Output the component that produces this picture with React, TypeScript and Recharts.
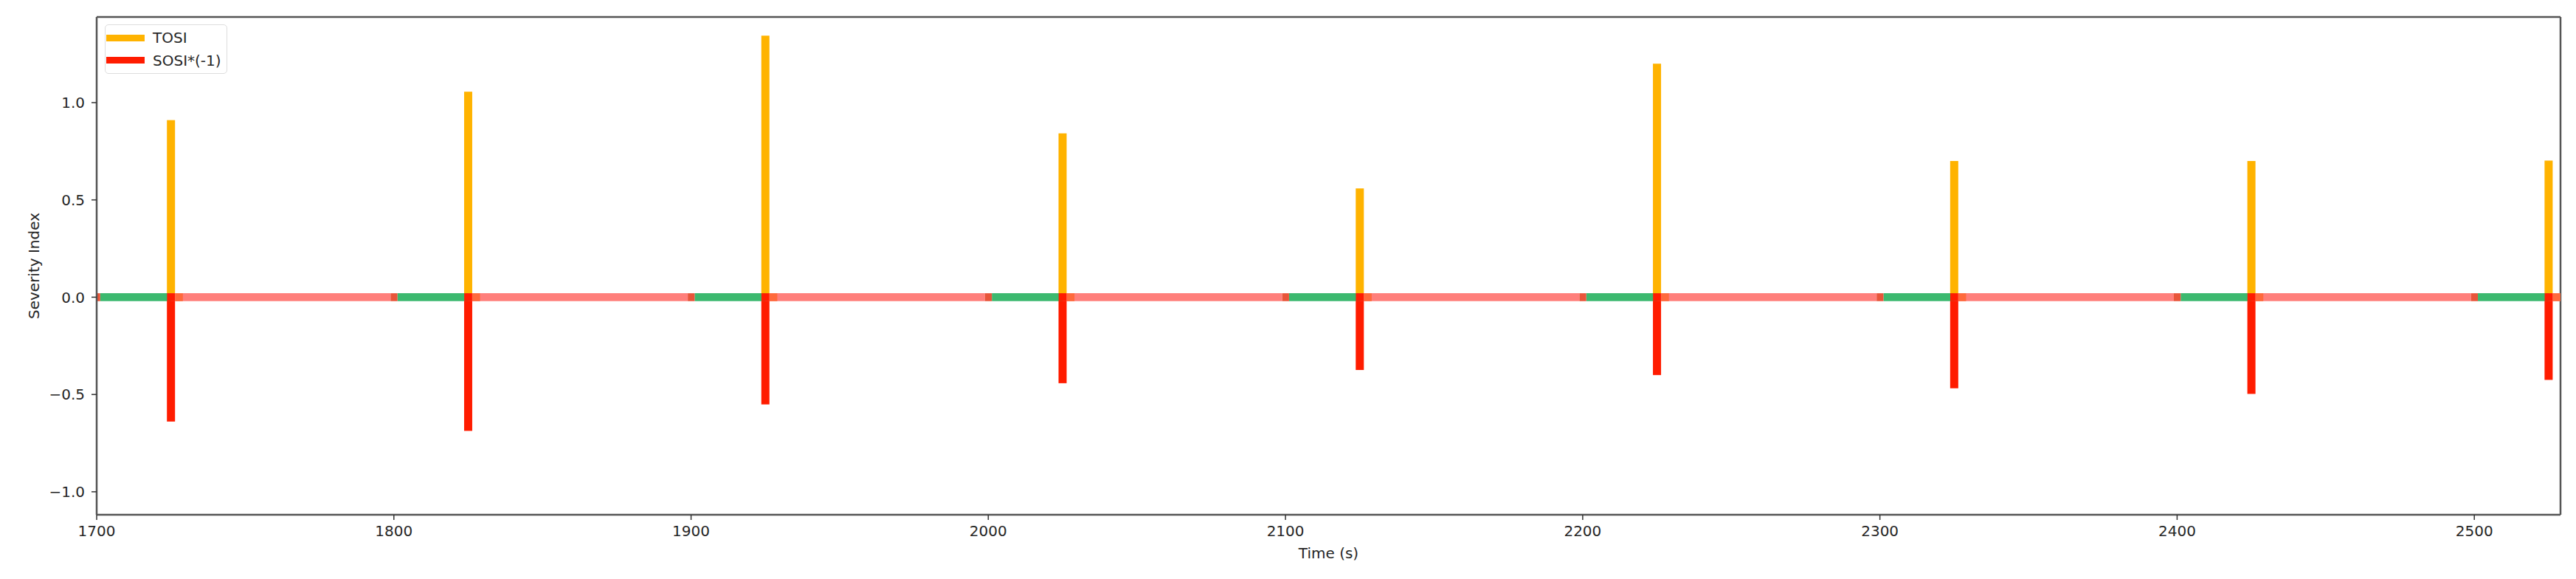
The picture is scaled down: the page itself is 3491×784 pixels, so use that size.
import React from 'react';
import { ComposedChart, Bar, Line, XAxis, YAxis, Legend, ReferenceLine } from 'recharts';

// Spike times (s) and severity values
const SPIKE_TIMES = [1725, 1825, 1925, 2025, 2125, 2225, 2325, 2425, 2525];
const TOSI = [0.91, 1.056, 1.344, 0.842, 0.559, 1.2, 0.7, 0.7, 0.702];
const SOSI_NEG = [-0.639, -0.687, -0.551, -0.442, -0.374, -0.4, -0.468, -0.497, -0.425];

// State band along y = 0: [start, end] in seconds
const GREEN_SEGMENTS: [number, number][] = [
  [1701.2, 1725], [1801.2, 1825], [1901.2, 1925], [2001.2, 2025], [2101.2, 2125],
  [2201.2, 2225], [2301.2, 2325], [2401.2, 2425], [2501.2, 2525],
];
const RED_SEGMENTS: [number, number][] = [
  [1725, 1798.9], [1825, 1898.9], [1925, 1998.9], [2025, 2098.9], [2125, 2198.9],
  [2225, 2298.9], [2325, 2398.9], [2425, 2498.9], [2525, 2529],
];
const ORANGE_PATCHES: [number, number][] = [
  [1726.4, 1729], [1826.4, 1829], [1926.4, 1929], [2026.4, 2029], [2126.4, 2129],
  [2226.4, 2229], [2326.4, 2329], [2426.4, 2429], [2526.4, 2529],
];
const DARK_PATCHES: [number, number][] = [
  [1700, 1701.2], [1798.9, 1801.2], [1898.9, 1901.2], [1998.9, 2001.2], [2098.9, 2101.2],
  [2198.9, 2201.2], [2298.9, 2301.2], [2398.9, 2401.2], [2498.9, 2501.2],
];
const PEAK_MARKS: [number, number][] = SPIKE_TIMES.map(t => [t - 1.33, t + 1.33]);

const X_DOMAIN = [1700, 2529];
const Y_DOMAIN = [-1.118, 1.44];
const X_TICKS = [1700, 1800, 1900, 2000, 2100, 2200, 2300, 2400, 2500];
const Y_TICKS = [-1, -0.5, 0, 0.5, 1];
const LEGEND_ORDER = ['TOSI', 'SOSI*(-1)'];

const COLORS = {
  tosi: '#ffb300',
  sosi: '#ff1c00',
  green: '#3cb96f',
  red: '#ff7f7b',
  orange: '#ff6a3c',
  dark: '#e8553a',
  axis: '#555555',
  text: '#262626',
};

const SPIKE_W = 11;

const data = SPIKE_TIMES.map((t, i) => ({ t, tosi: TOSI[i], sosi: SOSI_NEG[i] }));

const fmtY = (v: number) => (v < 0 ? `\u2212${Math.abs(v).toFixed(1)}` : v.toFixed(1));

const renderBand = (segs: [number, number][], color: string, key: string) =>
  segs.map(([a, b], i) => (
    <Line
      key={`${key}-${i}`}
      data={[{ t: a, v: 0 }, { t: b, v: 0 }]}
      dataKey="v"
      stroke={color}
      strokeWidth={10.7}
      dot={false}
      activeDot={false}
      legendType="none"
      isAnimationActive={false}
    />
  ));

// fixed-width spike centred on its time value
const Spike = (p: any) => {
  const h = Math.abs(p.height || 0);
  const y = p.height < 0 ? p.y + p.height : p.y;
  return <rect x={p.x + p.width / 2 - SPIKE_W / 2} y={y} width={SPIKE_W} height={h} fill={p.fill} />;
};

const LegendBox = (props: any) => {
  const items = (props.payload || [])
    .filter((p: any) => p.type !== 'none')
    .sort((a: any, b: any) => LEGEND_ORDER.indexOf(a.value) - LEGEND_ORDER.indexOf(b.value));
  return (
    <div
      style={{
        width: 166,
        height: 67,
        boxSizing: 'border-box',
        border: '1.5px solid #dddddd',
        borderRadius: 5,
        background: 'rgba(255,255,255,0.85)',
        paddingTop: 2,
        paddingLeft: 1,
        fontSize: 20,
        color: COLORS.text,
      }}
    >
      {items.map((it: any) => (
        <div key={it.value} style={{ display: 'flex', alignItems: 'center', height: 30.5 }}>
          <span style={{ display: 'inline-block', width: 52, height: 9, background: it.color }} />
          <span style={{ marginLeft: 11, lineHeight: '20px' }}>{it.value}</span>
        </div>
      ))}
    </div>
  );
};

export default function App() {
  return (
    <div style={{ position: 'absolute', left: 0, top: 0, fontFamily: 'DejaVu Sans', background: '#fff' }}>
      <ComposedChart
        width={3491}
        height={784}
        data={data}
        stackOffset="sign"
        margin={{ top: 23, right: 21, bottom: 0, left: 0 }}
      >
        <XAxis
          type="number"
          dataKey="t"
          domain={X_DOMAIN}
          ticks={X_TICKS}
          allowDataOverflow
          height={87}
          tickSize={7}
          tickMargin={8}
          tick={{ fontSize: 20, fill: COLORS.text }}
          axisLine={{ stroke: COLORS.axis, strokeWidth: 2.5 }}
          tickLine={{ stroke: '#333', strokeWidth: 1.5 }}
          label={{ value: 'Time (s)', position: 'insideBottom', offset: 28, fontSize: 20, fill: COLORS.text }}
        />
        <YAxis
          type="number"
          domain={Y_DOMAIN}
          ticks={Y_TICKS}
          allowDataOverflow
          width={131}
          tickSize={7}
          tickMargin={9}
          tickFormatter={fmtY}
          tick={{ fontSize: 20, fill: COLORS.text }}
          axisLine={{ stroke: COLORS.axis, strokeWidth: 2.5 }}
          tickLine={{ stroke: '#333', strokeWidth: 1.5 }}
          label={{
            value: 'Severity Index',
            angle: -90,
            position: 'insideLeft',
            offset: 46,
            fontSize: 20,
            fill: COLORS.text,
            style: { textAnchor: 'middle' },
          }}
        />
        <ReferenceLine y={Y_DOMAIN[1]} stroke={COLORS.axis} strokeWidth={2.5} />
        <ReferenceLine x={X_DOMAIN[1]} stroke={COLORS.axis} strokeWidth={2.5} />
        {renderBand(GREEN_SEGMENTS, COLORS.green, 'g')}
        {renderBand(RED_SEGMENTS, COLORS.red, 'r')}
        {renderBand(ORANGE_PATCHES, COLORS.orange, 'o')}
        {renderBand(DARK_PATCHES, COLORS.dark, 'd')}
        <Bar dataKey="tosi" name="TOSI" stackId="s" fill={COLORS.tosi} shape={Spike} isAnimationActive={false} />
        <Bar dataKey="sosi" name="SOSI*(-1)" stackId="s" fill={COLORS.sosi} shape={Spike} isAnimationActive={false} />
        {renderBand(PEAK_MARKS, COLORS.sosi, 'p')}
        <Legend
          layout="vertical"
          align="center"
          verticalAlign="middle"
          content={LegendBox}
          wrapperStyle={{ position: 'absolute', left: 142, top: 33, width: 166 }}
        />
      </ComposedChart>
    </div>
  );
}
